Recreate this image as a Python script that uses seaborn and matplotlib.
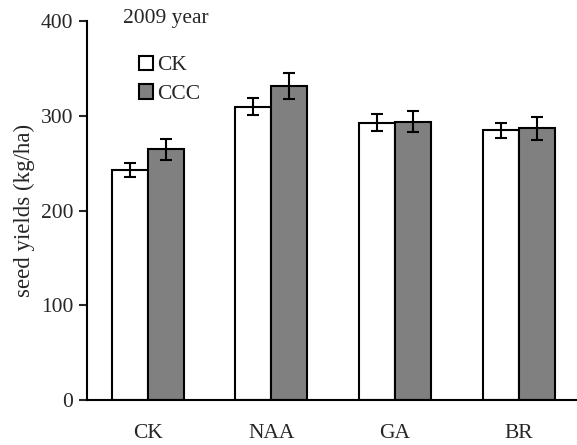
import pandas as pd
import matplotlib
matplotlib.use("Agg")
import matplotlib.pyplot as plt
import seaborn as sns

# Datos (rendimiento de semilla, 2009)
tratamientos = ["CK", "NAA", "GA", "BR"]
grupos = ["CK", "CCC"]
rend_ck = [243, 310, 293, 285]
rend_ccc = [265, 332, 294, 287]
err_ck = [7, 9, 9, 8]
err_ccc = [11, 14, 11, 12]

df = pd.DataFrame({
    "trat": tratamientos * 2,
    "grupo": ["CK"] * 4 + ["CCC"] * 4,
    "rend": rend_ck + rend_ccc,
    "err": err_ck + err_ccc,
})

sns.set_style("white")
plt.rcParams["font.family"] = ["Liberation Serif", "DejaVu Serif"]

fig = plt.figure(figsize=(5.77, 4.45), dpi=100)
ax = fig.add_axes([0.1508, 0.1011, 0.8492, 0.8506])

sns.barplot(data=df, x="trat", y="rend", hue="grupo", order=tratamientos,
            hue_order=grupos, palette={"CK": "white", "CCC": "#808080"},
            edgecolor="black", linewidth=1.5, width=0.58, gap=0,
            errorbar=None, ax=ax)

# barras de error en el centro de cada barra
for cont, g in zip(ax.containers, grupos):
    sub = df[df["grupo"] == g].set_index("trat").loc[tratamientos]
    xs = [p.get_x() + p.get_width() / 2 for p in cont.patches]
    ax.errorbar(xs, sub["rend"], yerr=sub["err"], fmt="none", ecolor="black",
                elinewidth=1.5, capsize=4, capthick=1.5)

ax.set_ylim(0, 400)
ax.set_xlim(-0.49, 3.47)
ax.set_yticks([0, 100, 200, 300, 400])
ax.set_xlabel("")
ax.set_ylabel("seed yields (kg/ha)", fontsize=16.5, labelpad=4)
ax.tick_params(axis="y", direction="out", length=6, width=1.5, labelsize=15.5,
               left=True, pad=4)
ax.tick_params(axis="x", length=0, labelsize=15.5, pad=17)

sns.despine(ax=ax, top=True, right=True)
ax.spines["left"].set_linewidth(1.5)
ax.spines["bottom"].set_linewidth(1.5)
ax.spines["left"].set_color("black")
ax.spines["bottom"].set_color("black")

fig.text(0.213, 0.958, "2009 year", fontsize=15.5, ha="left", va="center")

handles, labels = ax.get_legend_handles_labels()
ax.legend(handles, labels, loc="upper left", bbox_to_anchor=(0.241, 0.875),
          bbox_transform=fig.transFigure, frameon=False, fontsize=15.5,
          handlelength=0.65, handleheight=0.65, handletextpad=0.2,
          labelspacing=0.42, borderpad=0, borderaxespad=0)

fig.savefig("out.png", dpi=100)
